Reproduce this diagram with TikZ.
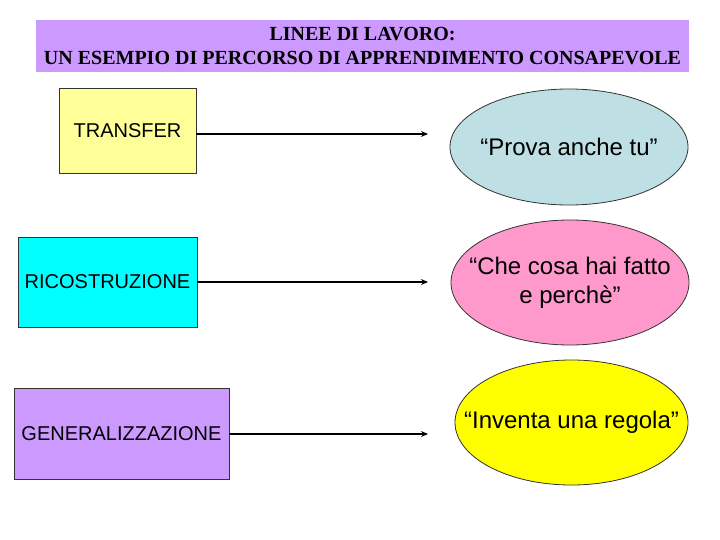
\documentclass[tikz,border=0pt]{standalone}
\usepackage{fontspec}
\setmainfont{Liberation Serif}
\setsansfont{Liberation Sans}
\usetikzlibrary{arrows.meta, shapes.geometric}

\definecolor{lavanda}{RGB}{204,153,255}
\definecolor{giallino}{RGB}{255,255,153}
\definecolor{ciano}{RGB}{0,255,255}
\definecolor{azzurrino}{RGB}{190,224,228}
\definecolor{rosa}{RGB}{255,153,204}
\definecolor{giallo}{RGB}{255,255,0}

\begin{document}
\begin{tikzpicture}[
    x=1pt, y=-1pt,
    >=Stealth,
    % Title band
    titlebox/.style={rectangle, fill=lavanda, inner sep=0pt, align=center,
        font=\fontsize{20}{24}\selectfont\bfseries},
    % Left boxes (phases)
    phase/.style={rectangle, draw=black!80, line width=0.8pt, inner sep=0pt,
        font=\sffamily\fontsize{20}{24}\selectfont},
    % Right ellipses (activities), text placed separately
    activity/.style={ellipse, draw=black!80, line width=0.8pt, inner sep=0pt},
    activitytext/.style={align=center, inner sep=0pt,
        font=\sffamily\fontsize{24}{29}\selectfont},
    % Arrow style
    arr/.style={line width=1.6pt, -{Stealth[length=7pt, width=6pt]}},
]
\useasboundingbox (0,0) rectangle (720,540);

% ============================================================
% Title
% ============================================================
\node[titlebox, minimum width=653pt, minimum height=52pt] (title) at (362.5,46)
    {LINEE DI LAVORO:\\UN ESEMPIO DI PERCORSO DI APPRENDIMENTO CONSAPEVOLE};

% ============================================================
% Left column: phases
% ============================================================
\node[phase, fill=giallino, minimum width=137pt, minimum height=85pt] (transfer) at (127.5,130.5) {TRANSFER};
\node[phase, fill=ciano, minimum width=179pt, minimum height=90pt] (ricostruzione) at (107.5,282) {RICOSTRUZIONE};
\node[phase, fill=lavanda, minimum width=215pt, minimum height=91pt] (generalizzazione) at (121.5,433.5) {GENERALIZZAZIONE};

% ============================================================
% Right column: activities
% ============================================================
\node[activity, fill=azzurrino, minimum width=238pt, minimum height=116pt] (prova) at (569,147) {};
\node[activity, fill=rosa, minimum width=238pt, minimum height=125pt] (checosa) at (570,282.5) {};
\node[activity, fill=giallo, minimum width=233pt, minimum height=125pt] (inventa) at (571.5,422.5) {};

\node[activitytext] (provatxt) at (prova.center) {``Prova anche tu''};
\node[activitytext] (checosatxt) at (checosa.center) {``Che cosa hai fatto\\e perchè''};
\node[activitytext] (inventatxt) at (inventa.center) {``Inventa una regola''};

% --- arrow ends (short of the ellipses) ---
\coordinate (tip1) at (428,134);
\coordinate (tip2) at (428,282);
\coordinate (tip3) at (428,434);

% --- Connections ---
\draw[arr] (transfer.east |- tip1) -- (tip1);
\draw[arr] (ricostruzione.east |- tip2) -- (tip2);
\draw[arr] (generalizzazione.east |- tip3) -- (tip3);

\end{tikzpicture}
\end{document}
